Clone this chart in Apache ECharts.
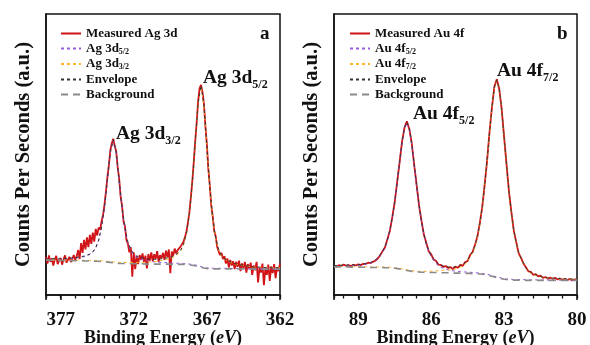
<!DOCTYPE html>
<html>
<head>
<meta charset="utf-8">
<script src="https://cdn.jsdelivr.net/npm/echarts@6/dist/echarts.min.js"></script>
<style>
  html, body { margin: 0; padding: 0; background: #fff; }
  #chart { width: 590px; height: 345px; }
</style>
</head>
<body>
<div id="chart"></div>
<script>
// ---- Ag 3d (panel a) ----
// measured spectrum, 378.0 -> 362.0 eV, 0.1 eV step
const agMeasStart = 378.0, agMeasStep = 0.1
const agMeasured = [
  .135,.112,.141,.118,.130,.105,.126,.139,.110,.124,
  .132,.108,.127,.141,.115,.122,.136,.117,.128,.142,
  .125,.138,.160,.128,.185,.150,.196,.162,.205,.170,
  .214,.182,.222,.190,.235,.212,.240,.232,.262,.285,
  .322,.368,.420,.462,.515,.540,.556,.530,.512,.455,
  .415,.352,.318,.262,.245,.196,.182,.152,.170,.065,
  .152,.092,.138,.110,.142,.125,.148,.118,.140,.095,
  .146,.122,.152,.120,.145,.128,.156,.118,.142,.130,
  .150,.125,.158,.135,.162,.078,.155,.140,.165,.148,
  .160,.158,.172,.178,.190,.205,.225,.255,.292,.345,
  .402,.470,.545,.612,.688,.735,.748,.722,.680,.600,
  .535,.448,.390,.318,.280,.228,.210,.172,.168,.142,
  .150,.128,.138,.112,.130,.098,.125,.105,.120,.092,
  .118,.100,.122,.085,.112,.096,.118,.080,.110,.092,
  .115,.072,.105,.088,.118,.045,.098,.080,.112,.035,
  .095,.072,.108,.050,.102,.078,.110,.060,.098,.085,
  .112
]
// fit curves, 378.0 -> 362.0 eV, 0.2 eV step
const agFitStart = 378.0, agFitStep = 0.2
const agComp1 = [ // purple, peak at 373.4 eV
  .127,.127,.127,.127,.127,.128,.129,.129,.129,.130,
  .131,.133,.135,.136,.140,.144,.152,.166,.193,.239,
  .312,.410,.507,.550,.505,.405,.306,.232,.184,.157,
  .142,.134,.130,.126,.123,.121,.119,.118,.117,.116,
  .116,.115,.115,.113,.113,.113,.113,.112,.111,.110,
  .109,.107,.104,.101,.098,.096,.096,.095,.095,.095,
  .095,.095,.095,.095,.095,.094,.094,.094,.094,.094,
  .094,.093,.093,.093,.093,.093,.093,.093,.093,.093,
  .093
]
const agComp2 = [ // yellow, peak at 367.4 eV
  .125,.125,.125,.125,.124,.125,.124,.124,.124,.124,
  .124,.124,.124,.123,.123,.123,.123,.123,.123,.122,
  .121,.120,.119,.118,.117,.116,.116,.116,.116,.116,
  .116,.116,.116,.116,.116,.117,.118,.119,.120,.122,
  .124,.126,.129,.132,.137,.144,.155,.177,.216,.285,
  .394,.538,.680,.743,.675,.528,.382,.271,.201,.161,
  .139,.128,.121,.116,.112,.109,.107,.105,.103,.102,
  .101,.100,.099,.099,.098,.098,.098,.097,.097,.097,
  .097
]
const agEnvelope = [
  .128,.128,.129,.129,.128,.129,.130,.130,.131,.132,
  .133,.135,.137,.138,.142,.146,.154,.169,.196,.242,
  .315,.413,.510,.553,.509,.409,.310,.237,.189,.162,
  .147,.139,.135,.132,.129,.128,.127,.127,.127,.128,
  .130,.131,.134,.136,.141,.148,.159,.180,.219,.288,
  .397,.541,.683,.746,.677,.530,.384,.273,.203,.163,
  .141,.130,.123,.118,.114,.110,.108,.106,.104,.103,
  .102,.100,.099,.099,.098,.098,.098,.097,.097,.097,
  .097
]
const agBackground = [
  .124,.124,.124,.124,.123,.123,.123,.123,.122,.122,
  .122,.122,.122,.121,.121,.121,.121,.120,.120,.119,
  .118,.117,.116,.115,.114,.112,.112,.112,.111,.111,
  .111,.111,.111,.111,.110,.110,.110,.110,.110,.110,
  .110,.110,.110,.109,.109,.109,.109,.109,.108,.107,
  .106,.104,.101,.098,.096,.094,.094,.093,.093,.093,
  .093,.093,.093,.093,.093,.093,.093,.093,.093,.093,
  .093,.092,.092,.092,.092,.092,.092,.092,.092,.092,
  .092
]

// ---- Au 4f (panel b) ----
// all curves 90.0 -> 80.0 eV, 0.1 eV step
const auStart = 90.0, auStep = 0.1
const auMeasured = [
  .104,.101,.106,.103,.108,.104,.106,.103,.107,.105,
  .109,.106,.111,.110,.115,.113,.118,.122,.130,.141,
  .156,.170,.199,.229,.278,.331,.403,.472,.546,.595,
  .618,.590,.540,.463,.392,.318,.265,.214,.185,.155,
  .145,.126,.121,.108,.107,.100,.103,.096,.099,.092,
  .101,.097,.107,.104,.117,.121,.142,.152,.178,.207,
  .256,.312,.392,.478,.580,.668,.742,.768,.733,.662,
  .562,.465,.368,.295,.228,.188,.148,.132,.111,.099,
  .084,.082,.072,.074,.066,.069,.061,.064,.058,.062,
  .057,.061,.055,.059,.054,.058,.053,.057,.052,.056,
  .054
]
const auComp1 = [ // purple, 4f5/2 at 87.0 eV
  .103,.103,.103,.104,.104,.104,.105,.105,.105,.105,
  .106,.107,.108,.110,.112,.114,.117,.123,.130,.142,
  .154,.170,.195,.229,.274,.331,.399,.473,.542,.594,
  .612,.591,.535,.463,.387,.318,.259,.213,.178,.153,
  .136,.124,.112,.104,.098,.095,.092,.090,.087,.086,
  .085,.084,.084,.082,.082,.081,.081,.080,.079,.079,
  .078,.077,.076,.074,.072,.069,.067,.064,.062,.060,
  .058,.057,.056,.056,.055,.055,.055,.055,.055,.054,
  .054,.054,.054,.054,.054,.053,.053,.053,.053,.053,
  .053,.053,.053,.053,.053,.053,.053,.053,.053,.053,
  .053
]
const auComp2 = [ // yellow, 4f7/2 at 83.3 eV
  .102,.102,.102,.102,.102,.102,.102,.101,.101,.101,
  .101,.101,.101,.101,.101,.100,.100,.100,.100,.100,
  .100,.099,.099,.099,.098,.097,.096,.095,.093,.092,
  .090,.088,.087,.086,.085,.084,.084,.084,.084,.084,
  .085,.085,.086,.086,.087,.088,.088,.089,.090,.091,
  .093,.095,.099,.103,.110,.119,.136,.150,.173,.206,
  .251,.311,.387,.477,.575,.668,.737,.762,.732,.659,
  .562,.461,.368,.291,.229,.183,.150,.127,.112,.094,
  .085,.078,.073,.070,.067,.065,.063,.062,.060,.060,
  .059,.058,.058,.057,.057,.057,.056,.056,.056,.056,
  .056
]
const auEnvelope = [
  .105,.105,.105,.106,.106,.106,.107,.107,.107,.107,
  .108,.109,.110,.112,.114,.116,.119,.125,.132,.144,
  .156,.172,.197,.231,.276,.333,.401,.475,.544,.597,
  .615,.593,.538,.466,.390,.321,.262,.217,.182,.158,
  .141,.129,.118,.110,.105,.103,.100,.100,.098,.099,
  .100,.101,.105,.108,.115,.123,.140,.154,.176,.209,
  .254,.314,.390,.480,.578,.670,.740,.764,.735,.661,
  .564,.463,.370,.293,.231,.185,.152,.129,.114,.096,
  .087,.080,.075,.072,.069,.066,.064,.063,.061,.061,
  .060,.059,.059,.058,.058,.058,.057,.057,.057,.057,
  .057
]
const auBackground = [
  .100,.100,.100,.100,.100,.100,.100,.099,.099,.099,
  .099,.099,.099,.099,.099,.098,.098,.098,.098,.098,
  .098,.097,.097,.097,.096,.095,.094,.093,.091,.089,
  .087,.086,.084,.083,.082,.082,.081,.081,.080,.080,
  .080,.080,.080,.079,.079,.079,.079,.079,.078,.078,
  .078,.078,.078,.077,.077,.077,.077,.076,.076,.076,
  .075,.074,.073,.071,.069,.067,.064,.062,.059,.058,
  .056,.055,.054,.054,.053,.053,.053,.053,.053,.052,
  .052,.052,.052,.052,.052,.052,.052,.052,.052,.052,
  .052,.052,.052,.052,.052,.052,.052,.052,.052,.052,
  .052
]

// axis ticks
const agTickLabels = [377, 372, 367, 362]
const auTickLabels = [89, 86, 83, 80]

const serif = 'Liberation Serif'
const ink = '#111'
const C_MEAS = '#d01418'
const C_COMP1 = '#9a5ce0'
const C_COMP2 = '#ffb62a'
const C_ENV = '#333'
const C_BG = '#8a8a8a'

// pair an energy grid (start, step) with a value list
function pairs(start, step, values) {
  return values.map((v, i) => [+(start - i * step).toFixed(2), v])
}

function panelSeries(x, y, names, d) {
  const base = { type: 'line', symbol: 'none', xAxisIndex: x, yAxisIndex: y, silent: true, animation: false }
  return [
    { ...base, name: names[0], data: d.meas, lineStyle: { color: C_MEAS, width: 1.8 }, itemStyle: { color: C_MEAS } },
    { ...base, name: names[1], data: d.c1, lineStyle: { color: C_COMP1, width: 1, type: [3, 3] }, itemStyle: { color: C_COMP1 } },
    { ...base, name: names[2], data: d.c2, lineStyle: { color: C_COMP2, width: 1, type: [3, 3] }, itemStyle: { color: C_COMP2 } },
    { ...base, name: names[3], data: d.env, lineStyle: { color: C_ENV, width: 1, type: [3, 3] }, itemStyle: { color: C_ENV } },
    { ...base, name: names[4], data: d.bg, lineStyle: { color: C_BG, width: 1.6, type: [7, 5] }, itemStyle: { color: C_BG } },
  ]
}

// legend text with subscripts: "Ag 3d5/2" -> Ag 3d + sub 5/2
function legendFmt(name) {
  const m = name.match(/^(.*[df])(\d\/\d)$/)
  return m ? '{t|' + m[1] + '}{s|' + m[2] + '}' : '{t|' + name + '}'
}
const legendRich = {
  t: { fontFamily: serif, fontWeight: 'bold', fontSize: 13, color: ink, lineHeight: 14 },
  s: { fontFamily: serif, fontWeight: 'bold', fontSize: 8, color: ink, lineHeight: 9, verticalAlign: 'bottom' },
}
function makeLegend(left, names) {
  return {
    left: left, top: 22, orient: 'vertical', itemWidth: 20, itemHeight: 12, itemGap: 2,
    data: names, formatter: legendFmt, selectedMode: false,
    itemStyle: { opacity: 0 },
    textStyle: { fontFamily: serif, fontWeight: 'bold', fontSize: 13, color: ink, rich: legendRich },
  }
}

function mainX(grid, min, max, interval, labels) {
  return {
    type: 'value', gridIndex: grid, min: min, max: max, interval: interval, inverse: true,
    position: 'bottom',
    axisLine: { show: true, lineStyle: { color: ink, width: 1.5 } },
    axisTick: { show: true, length: 5, lineStyle: { color: ink, width: 1.5 } },
    axisLabel: {
      margin: 16, color: ink, fontFamily: serif, fontWeight: 'bold', fontSize: 19,
      formatter: v => (labels.indexOf(Math.round(v)) >= 0 && Math.abs(v - Math.round(v)) < 1e-6) ? String(Math.round(v)) : '',
    },
    splitLine: { show: false },
    name: '{b|Binding Energy (}{i|eV}{b|)}', nameLocation: 'middle', nameGap: 33,
    nameMoveOverlap: false,
    nameTextStyle: {
      rich: {
        b: { fontFamily: serif, fontWeight: 'bold', fontSize: 18, color: ink, lineHeight: 20 },
        i: { fontFamily: serif, fontWeight: 'bold', fontStyle: 'italic', fontSize: 18, color: ink, lineHeight: 20 },
      },
    },
  }
}
function minorX(grid, min, max, interval) {
  return {
    type: 'value', gridIndex: grid, min: min, max: max, interval: interval, inverse: true,
    position: 'bottom',
    axisLine: { show: false },
    axisTick: { show: true, length: 3.5, lineStyle: { color: ink, width: 1.3 } },
    axisLabel: { show: false },
    splitLine: { show: false },
  }
}
function yAx(grid) {
  return {
    type: 'value', gridIndex: grid, min: 0, max: 1,
    axisLine: { show: true, lineStyle: { color: ink, width: 1.5 } },
    axisTick: { show: false }, axisLabel: { show: false }, splitLine: { show: false },
    name: 'Counts Per Seconds (a.u.)', nameLocation: 'middle', nameGap: 12,
    nameTextStyle: { fontFamily: serif, fontWeight: 'bold', fontSize: 20.5, color: ink },
  }
}

const annRich = {
  m: { fontFamily: serif, fontWeight: 'bold', fontSize: 19.5, fill: ink, lineHeight: 26 },
  s: { fontFamily: serif, fontWeight: 'bold', fontSize: 12, fill: ink, lineHeight: 13, verticalAlign: 'bottom' },
}
function ann(left, top, main, sub) {
  return { type: 'text', left: left, top: top, silent: true,
    style: { text: '{m|' + main + '}{s|' + sub + '}', rich: annRich, fill: ink } }
}
function letter(left, top, t) {
  return { type: 'text', left: left, top: top, silent: true,
    style: { text: t, font: 'bold 19px "Liberation Serif"', fill: ink } }
}

const agNames = ['Measured Ag 3d', 'Ag 3d5/2', 'Ag 3d3/2', 'Envelope', 'Background']
const auNames = ['Measured Au 4f', 'Au 4f5/2', 'Au 4f7/2', 'Envelope', 'Background']

const chart = echarts.init(document.getElementById('chart'), null, { renderer: 'canvas' })
chart.setOption({
  animation: false,
  backgroundColor: '#fff',
  grid: [
    { left: 46, top: 14, width: 234, height: 281, show: true, borderColor: ink, borderWidth: 1.5, containLabel: false, outerBoundsMode: 'none' },
    { left: 334, top: 14, width: 243, height: 281, show: true, borderColor: ink, borderWidth: 1.5, containLabel: false, outerBoundsMode: 'none' },
  ],
  xAxis: [
    mainX(0, 362, 378, 5, agTickLabels),
    minorX(0, 362, 378, 1),
    mainX(1, 80, 90, 3, auTickLabels),
    minorX(1, 80, 90, 0.6),
  ],
  yAxis: [yAx(0), yAx(1)],
  legend: [makeLegend(55, agNames), makeLegend(344, auNames)],
  series: [
    ...panelSeries(0, 0, agNames, {
      meas: pairs(agMeasStart, agMeasStep, agMeasured),
      c1: pairs(agFitStart, agFitStep, agComp1),
      c2: pairs(agFitStart, agFitStep, agComp2),
      env: pairs(agFitStart, agFitStep, agEnvelope),
      bg: pairs(agFitStart, agFitStep, agBackground),
    }),
    ...panelSeries(2, 1, auNames, {
      meas: pairs(auStart, auStep, auMeasured),
      c1: pairs(auStart, auStep, auComp1),
      c2: pairs(auStart, auStep, auComp2),
      env: pairs(auStart, auStep, auEnvelope),
      bg: pairs(auStart, auStep, auBackground),
    }),
  ],
  graphic: [
    ann(203, 68, 'Ag 3d', '5/2'),
    ann(116, 124, 'Ag 3d', '3/2'),
    ann(497, 61, 'Au 4f', '7/2'),
    ann(413, 104, 'Au 4f', '5/2'),
    letter(260, 25, 'a'),
    letter(557, 25, 'b'),
  ],
})
</script>
</body>
</html>
